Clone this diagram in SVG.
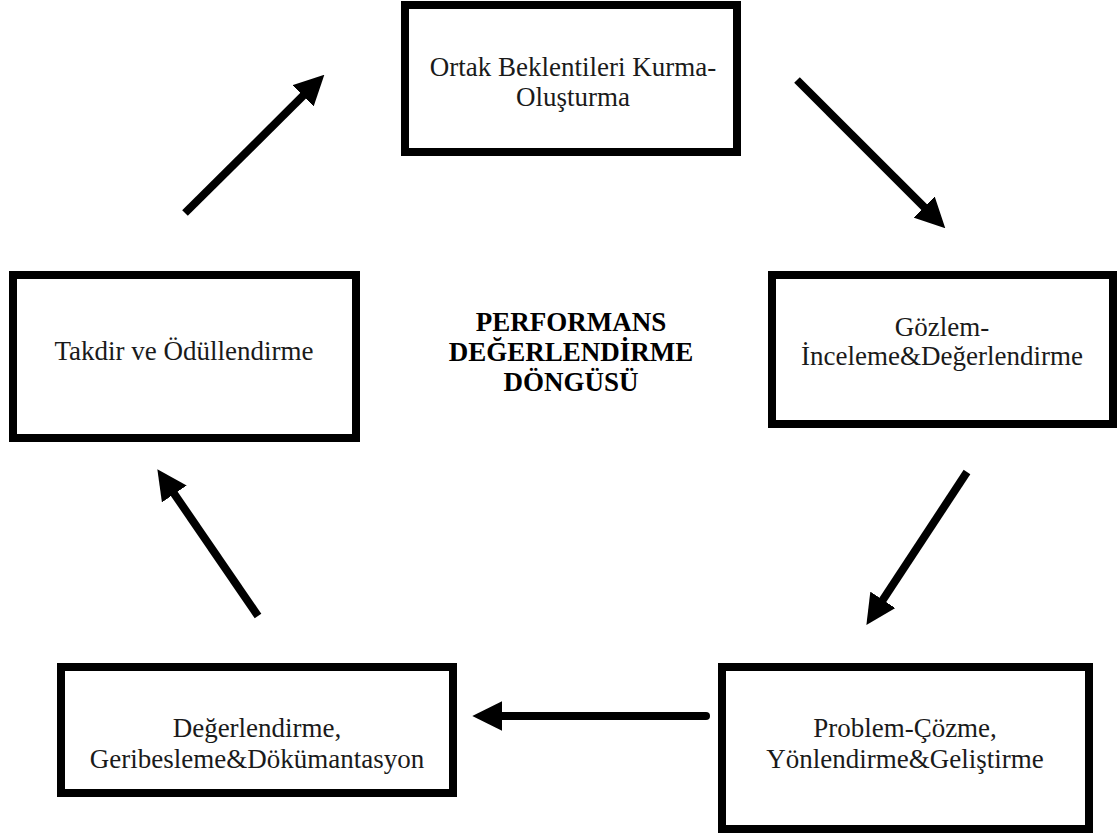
<svg xmlns="http://www.w3.org/2000/svg" width="1117" height="835" viewBox="0 0 1117 835">
  <style>
    .box { fill: #ffffff; stroke: #000000; stroke-width: 8; }
    .lbl { font-family: "Liberation Serif", "Times New Roman", serif; font-size: 27px; fill: #1a1a1a; text-anchor: middle; }
    .title { font-family: "Liberation Serif", "Times New Roman", serif; font-size: 27px; font-weight: bold; fill: #000000; text-anchor: middle; }
    .arrow { fill: none; stroke: #000000; stroke-width: 8; marker-end: url(#head); }
  </style>
  <defs>
    <marker id="head" markerUnits="userSpaceOnUse" markerWidth="30" markerHeight="30" viewBox="0 -13 26 26" refX="2" refY="0" orient="auto">
      <path d="M0,-13 L26,0 L0,13 z" fill="#000000"/>
    </marker>
  </defs>
  <rect width="1117" height="835" fill="#ffffff"/>

  <g id="node-ortak">
    <rect class="box" x="405" y="5" width="332" height="147"/>
    <text class="lbl" x="573" y="76">Ortak Beklentileri Kurma-</text>
    <text class="lbl" x="573" y="106">Oluşturma</text>
  </g>

  <g id="node-gozlem">
    <rect class="box" x="772" y="275" width="341" height="149"/>
    <text class="lbl" x="942" y="336">Gözlem-</text>
    <text class="lbl" x="942" y="365">İnceleme&amp;Değerlendirme</text>
  </g>

  <g id="node-problem">
    <rect class="box" x="722" y="667" width="367" height="162"/>
    <text class="lbl" x="905" y="737">Problem-Çözme,</text>
    <text class="lbl" x="905" y="768">Yönlendirme&amp;Geliştirme</text>
  </g>

  <g id="node-degerlendirme">
    <rect class="box" x="61" y="667" width="392" height="126"/>
    <text class="lbl" x="257" y="737">Değerlendirme,</text>
    <text class="lbl" x="257" y="768">Geribesleme&amp;Dökümantasyon</text>
  </g>

  <g id="node-takdir">
    <rect class="box" x="13" y="275" width="343" height="163"/>
    <text class="lbl" x="184" y="360">Takdir ve Ödüllendirme</text>
  </g>

  <g id="center-title">
    <text class="title" x="571" y="331">PERFORMANS</text>
    <text class="title" x="571" y="361">DEĞERLENDİRME</text>
    <text class="title" x="571" y="391">DÖNGÜSÜ</text>
  </g>

  <g id="connectors">
    <line class="arrow" x1="185" y1="213" x2="304.7" y2="94.2"/>
    <line class="arrow" x1="797" y1="80" x2="925.7" y2="208.7"/>
    <line class="arrow" x1="967" y1="472" x2="881.6" y2="601.8"/>
    <line class="arrow" x1="706" y1="716" x2="500" y2="716" stroke-linecap="round"/>
    <line class="arrow" x1="258" y1="616" x2="173" y2="492"/>
  </g>
</svg>
